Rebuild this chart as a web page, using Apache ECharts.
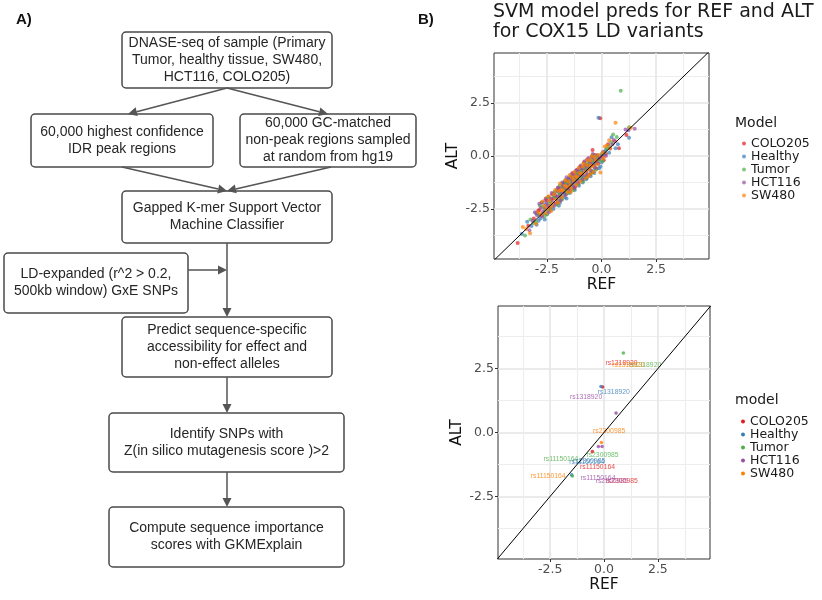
<!DOCTYPE html>
<html><head><meta charset="utf-8">
<script src="https://cdn.jsdelivr.net/npm/echarts@6/dist/echarts.min.js"></script>
<style>html,body{margin:0;padding:0;background:#fff}#c{width:822px;height:600px}</style>
</head><body><div id="c"></div>
<script>
// ---------------- DATA ----------------
const models = ['COLO205', 'Healthy', 'Tumor', 'HCT116', 'SW480'];
const tickValues = [-2.5, 0, 2.5];
const minorTickValues = [-3.75, -1.25, 1.25, 3.75];
const chartTitle = 'SVM model preds for REF and ALT\nfor COX15 LD variants';
const xName = 'REF';
const yName = 'ALT';
const legendTitleTop = 'Model';
const legendTitleBottom = 'model';

// top panel: [REF, ALT] per model
const predsCOLO205 = [[-3.84,-4.1],[-3.35,-3.29],[-3.1,-2.95],[-2.85,-2.55],[-2.74,-2.19],[-2.6,-2.45],[-2.5,-2.1],[-2.42,-2.35],[-2.3,-2.05],[-2.2,-2.0],[-2.15,-1.75],[-2.05,-1.95],[-1.95,-1.6],[-1.9,-1.85],[-1.8,-1.45],[-1.75,-1.7],[-1.68,-1.3],[-1.6,-1.55],[-1.55,-1.2],[-1.48,-1.45],[-1.4,-1.1],[-1.35,-1.35],[-1.3,-0.95],[-1.22,-1.2],[-1.15,-0.85],[-1.1,-1.1],[-1.02,-0.75],[-0.95,-0.95],[-0.9,-0.6],[-0.85,-0.88],[-0.78,-0.5],[-0.7,-0.72],[-0.62,-0.4],[-0.55,-0.6],[-0.48,-0.3],[-0.41,0.28],[-0.35,-0.45],[-0.25,-0.2],[-0.15,-0.35],[-0.06,1.78],[0.05,-0.05],[0.2,0.1],[0.8,0.36],[1.14,0.99],[-2.0,-2.2],[-1.2,-1.45],[-0.5,-0.85],
  [-2.9,-2.6],[-2.75,-2.8],[-2.55,-2.0],[-2.35,-2.5],[-2.25,-1.8],[-2.1,-2.25],[-1.98,-1.5],[-1.85,-2.05],[-1.72,-1.25],[-1.62,-1.8],[-1.5,-1.05],[-1.42,-1.6],[-1.32,-0.8],[-1.25,-1.55],[-1.12,-0.65],[-1.05,-1.3],[-0.97,-0.5],[-0.88,-1.15],[-0.8,-0.3],[-0.72,-1.0],[-0.65,-0.15],[-0.58,-0.9],[-0.45,-0.05],[-0.38,-0.75],[-0.3,0.05],[-0.22,-0.6],[-0.1,-0.15],[0.1,-0.2],[0.3,0.55],[0.62,0.7]];
const predsHealthy = [[-3.65,-3.68],[-2.97,-3.24],[-2.8,-2.95],[-2.65,-2.7],[-2.55,-2.3],[-2.45,-2.6],[-2.35,-2.15],[-2.25,-2.4],[-2.1,-1.9],[-2.0,-2.1],[-1.92,-1.75],[-1.85,-1.95],[-1.72,-1.55],[-1.65,-1.75],[-1.58,-1.35],[-1.5,-1.6],[-1.42,-1.25],[-1.33,-1.45],[-1.25,-1.05],[-1.18,-1.3],[-1.08,-0.9],[-1.0,-1.15],[-0.92,-0.75],[-0.82,-1.0],[-0.75,-0.6],[-0.65,-0.85],[-0.58,-0.45],[-0.45,-0.7],[-0.38,-0.25],[-0.3,-0.55],[-0.2,-0.1],[-0.11,-0.58],[-0.14,1.80],[0.0,-0.3],[0.1,0.05],[0.46,0.89],[0.64,0.36],[1.26,0.86],[-2.6,-3.0],[-1.6,-2.0],[-0.7,-1.1],[-3.2,-3.3],[-1.95,-2.35],
  [-3.4,-3.1],[-3.0,-2.7],[-2.88,-3.05],[-2.7,-2.2],[-2.5,-2.75],[-2.4,-1.95],[-2.2,-2.5],[-2.05,-1.6],[-1.9,-2.2],[-1.78,-1.3],[-1.68,-1.95],[-1.55,-1.1],[-1.45,-1.75],[-1.35,-0.95],[-1.22,-1.6],[-1.12,-0.7],[-1.03,-1.4],[-0.95,-0.55],[-0.86,-1.25],[-0.78,-0.35],[-0.68,-1.05],[-0.6,-0.2],[-0.5,-0.95],[-0.42,0.0],[-0.33,-0.8],[-0.25,-0.35],[-0.05,-0.5],[0.2,0.3],[0.75,0.55],[0.35,0.15]];
const predsTumor = [[-3.12,-3.16],[-3.5,-3.75],[-2.9,-2.75],[-2.7,-2.4],[-2.58,-2.55],[-2.4,-2.2],[-2.28,-2.3],[-2.18,-1.9],[-2.08,-2.0],[-1.98,-1.7],[-1.88,-1.8],[-1.78,-1.5],[-1.7,-1.6],[-1.62,-1.25],[-1.52,-1.4],[-1.45,-1.15],[-1.38,-1.3],[-1.28,-0.98],[-1.2,-1.12],[-1.12,-0.8],[-1.05,-0.98],[-0.96,-0.7],[-0.88,-0.8],[-0.8,-0.55],[-0.72,-0.65],[-0.6,-0.35],[-0.52,-0.5],[-0.42,-0.15],[-0.32,-0.3],[-0.22,0.0],[-0.12,-0.2],[0.0,0.1],[0.15,0.2],[0.53,1.02],[0.88,3.08],[1.26,1.36],[0.35,0.45],[-1.47,-1.69],[-2.5,-2.75],[-0.9,-1.05],
  [-3.25,-3.0],[-3.0,-3.1],[-2.82,-2.35],[-2.62,-2.85],[-2.45,-1.95],[-2.33,-2.55],[-2.15,-1.7],[-2.02,-2.3],[-1.92,-1.4],[-1.8,-2.05],[-1.66,-1.15],[-1.56,-1.75],[-1.42,-0.95],[-1.3,-1.6],[-1.18,-0.75],[-1.08,-1.35],[-0.98,-0.55],[-0.84,-1.2],[-0.76,-0.35],[-0.66,-0.95],[-0.56,-0.2],[-0.47,-0.8],[-0.38,0.05],[-0.27,-0.65],[-0.17,-0.05],[0.05,-0.25],[0.25,0.35],[0.45,0.65],[0.7,0.9],[-0.62,-0.6]];
const predsHCT116 = [[-3.05,-2.66],[-2.95,-2.8],[-2.78,-2.45],[-2.68,-2.62],[-2.52,-2.25],[-2.45,-2.45],[-2.32,-2.0],[-2.22,-2.18],[-2.12,-1.85],[-2.02,-1.9],[-1.93,-1.55],[-1.84,-1.7],[-1.76,-1.4],[-1.66,-1.5],[-1.57,-1.15],[-1.49,-1.35],[-1.41,-1.05],[-1.32,-1.22],[-1.24,-0.9],[-1.16,-1.02],[-1.07,-0.7],[-0.99,-0.88],[-0.9,-0.55],[-0.81,-0.7],[-0.73,-0.45],[-0.64,-0.55],[-0.54,-0.25],[-0.46,-0.4],[-0.36,-0.1],[-0.27,-0.25],[-0.18,0.05],[-0.08,-0.1],[0.08,0.2],[0.56,0.76],[1.52,1.29],[1.23,1.21],[0.4,0.35],[-3.3,-3.5],[-1.0,-0.55],[-2.0,-1.5],
  [-3.15,-3.05],[-2.85,-2.25],[-2.72,-2.85],[-2.58,-2.1],[-2.4,-2.65],[-2.28,-1.75],[-2.15,-2.35],[-2.0,-1.65],[-1.88,-2.1],[-1.8,-1.25],[-1.7,-1.85],[-1.6,-1.0],[-1.47,-1.65],[-1.37,-0.85],[-1.28,-1.5],[-1.18,-0.7],[-1.09,-1.25],[-0.95,-0.45],[-0.86,-1.1],[-0.77,-0.25],[-0.69,-0.9],[-0.59,-0.1],[-0.5,-0.7],[-0.4,0.1],[-0.31,-0.55],[-0.2,-0.3],[0.0,0.0],[0.2,0.0],[0.5,0.55],[1.1,1.25]];
const predsSW480 = [[-3.27,-3.64],[-3.45,-3.45],[-2.88,-2.65],[-2.76,-2.75],[-2.62,-2.35],[-2.48,-2.5],[-2.38,-2.1],[-2.26,-2.25],[-2.16,-1.8],[-2.06,-2.05],[-1.96,-1.65],[-1.86,-1.62],[-1.77,-1.6],[-1.69,-1.4],[-1.6,-1.45],[-1.51,-1.2],[-1.43,-1.38],[-1.35,-1.0],[-1.26,-1.15],[-1.18,-0.95],[-1.1,-1.0],[-1.01,-0.8],[-0.93,-0.85],[-0.85,-0.5],[-0.76,-0.75],[-0.67,-0.42],[-0.57,-0.62],[-0.49,-0.2],[-0.4,-0.5],[-0.3,-0.05],[-0.2,-0.4],[-0.05,-0.78],[0.05,0.15],[0.35,0.74],[0.64,1.57],[1.34,1.33],[0.25,0.5],[-2.3,-2.6],[-1.4,-1.7],[-0.6,-0.95],
  [-3.6,-3.35],[-3.0,-3.2],[-2.7,-2.15],[-2.55,-2.7],[-2.42,-1.9],[-2.3,-2.4],[-2.12,-1.6],[-1.99,-2.2],[-1.9,-1.3],[-1.81,-1.95],[-1.65,-1.15],[-1.55,-1.7],[-1.46,-0.9],[-1.38,-1.55],[-1.22,-0.75],[-1.14,-1.35],[-1.04,-0.55],[-0.96,-1.2],[-0.83,-0.35],[-0.73,-1.05],[-0.63,-0.2],[-0.53,-0.85],[-0.44,0.0],[-0.36,-0.75],[-0.26,-0.2],[-0.15,0.05],[0.1,-0.1],[0.4,0.35],[0.15,0.45],[-0.5,-0.45]];

// bottom panel: significant SNP points [REF, ALT]
const sigCOLO205 = [[-0.06,1.78],[-0.54,-0.75]];
const sigHealthy = [[-0.14,1.80],[-1.5,-1.66]];
const sigTumor = [[0.9,3.11],[-1.47,-1.70]];
const sigHCT116 = [[0.56,0.76],[-0.26,-0.55],[-0.09,-0.55]];
const sigSW480 = [[-0.12,-0.39]];

// bottom panel: SNP text labels [REF, ALT, id]
const labCOLO205 = [[0.81,2.72,'rs1318920'],[-0.30,-1.36,'rs11150164'],[0.82,-1.92,'rs2300985']];
const labHealthy = [[0.45,1.57,'rs1318920'],[-0.69,-1.11,'rs2300985'],[-0.8,-1.15,'rs11150164']];
const labTumor = [[1.91,2.63,'rs1318920'],[-0.07,-0.87,'rs2300985'],[-2.0,-1.03,'rs11150164']];
const labHCT116 = [[-0.83,1.37,'rs1318920'],[-0.28,-1.79,'rs11150164'],[0.36,-1.92,'rs2300985']];
const labSW480 = [[1.13,2.62,'rs1318920'],[0.24,0.07,'rs2300985'],[-2.59,-1.72,'rs11150164']];

// flowchart texts
const panelLabels = ['A)', 'B)'];
const flowTexts = [
  'DNASE-seq of sample (Primary\nTumor, healthy tissue, SW480,\nHCT116, COLO205)',
  '60,000 highest confidence\nIDR peak regions',
  '60,000 GC-matched\nnon-peak regions sampled\nat random from hg19',
  'Gapped K-mer Support Vector\nMachine Classifier',
  'LD-expanded (r^2 > 0.2,\n500kb window) GxE SNPs',
  'Predict sequence-specific\naccessibility for effect and\nnon-effect alleles',
  'Identify SNPs with\nZ(in silico mutagenesis score )>2',
  'Compute sequence importance\nscores with GKMExplain'
];

// ---------------- LAYOUT / STYLE ----------------
const palette = ['#E41A1C', '#377EB8', '#4DAF4A', '#984EA3', '#FF7F00'];
const preds = [predsCOLO205, predsHealthy, predsTumor, predsHCT116, predsSW480];
const sigs = [sigCOLO205, sigHealthy, sigTumor, sigHCT116, sigSW480];
const labs = [labCOLO205, labHealthy, labTumor, labHCT116, labSW480];

const boxGeom = [
  [122, 32, 210, 56], [31, 114, 182, 53], [240, 114, 176, 53], [122, 191, 210, 52],
  [4, 253, 184, 60], [122, 317, 210, 60], [109, 413, 235, 59], [109, 507, 235, 60]
];
const arrowGeom = [
  [227, 88, 128, 114], [227, 88, 328, 114], [122, 167, 227, 191], [331, 167, 227, 191],
  [227, 243, 227, 317], [188, 270, 227, 270], [227, 377, 227, 413], [227, 472, 227, 507]
];

const FONT = 'DejaVu Sans';
const graphicEls = [];
boxGeom.forEach((b, i) => {
  graphicEls.push({ type: 'rect', shape: { x: b[0], y: b[1], width: b[2], height: b[3], r: 4 },
    style: { fill: '#fff', stroke: '#4a4a4a', lineWidth: 1.5 } });
  graphicEls.push({ type: 'text', x: b[0] + b[2] / 2, y: b[1] + b[3] / 2,
    style: { text: flowTexts[i], align: 'center', verticalAlign: 'middle',
      font: '14px "Liberation Sans", Arial, sans-serif', lineHeight: 17, fill: '#262626' } });
});
arrowGeom.forEach(a => {
  const [x1, y1, x2, y2] = a;
  const L = 9, W = 4.5;
  const dx = x2 - x1, dy = y2 - y1, len = Math.hypot(dx, dy);
  const ux = dx / len, uy = dy / len;
  const bx = x2 - ux * L, by = y2 - uy * L;
  graphicEls.push({ type: 'line', shape: { x1, y1, x2: bx, y2: by }, style: { stroke: '#555', lineWidth: 1.5 } });
  graphicEls.push({ type: 'polygon', shape: { points: [[x2, y2], [bx - uy * W, by + ux * W], [bx + uy * W, by - ux * W]] },
    style: { fill: '#555' } });
});
graphicEls.push({ type: 'text', x: 16, y: 12, style: { text: panelLabels[0], font: 'bold 15px "Liberation Sans", Arial', fill: '#111' } });
graphicEls.push({ type: 'text', x: 418, y: 12, style: { text: panelLabels[1], font: 'bold 15px "Liberation Sans", Arial', fill: '#111' } });

const grids = [
  { left: 494, top: 53, width: 215, height: 206, range: [-4.92, 4.92], yrange: [-4.86, 4.86] },
  { left: 498, top: 306, width: 212, height: 253, range: [-4.92, 4.92], yrange: [-4.95, 4.95] }
];

function majorAxis(gi, isX, rng) {
  return {
    gridIndex: gi, type: 'value', min: rng[0], max: rng[1], position: isX ? 'bottom' : 'left',
    axisLine: { show: false, onZero: false },
    axisTick: { show: true, length: 3, customValues: tickValues, lineStyle: { color: '#333', width: 1 } },
    axisLabel: { customValues: tickValues, formatter: v => v.toFixed(1), color: '#4d4d4d',
      fontSize: 12.5, fontFamily: FONT, margin: 4 },
    splitLine: { show: true, lineStyle: { color: '#E5E5E5', width: 1.6 } },
    name: isX ? xName : yName, nameLocation: 'middle', nameGap: isX ? 18 : 33,
    nameTextStyle: { fontFamily: FONT, fontSize: 15.5, color: '#111' }
  };
}
function minorAxis(gi, isX, rng) {
  return {
    gridIndex: gi, type: 'value', min: rng[0], max: rng[1], position: isX ? 'bottom' : 'left',
    axisLine: { show: false, onZero: false },
    axisTick: { show: false, customValues: minorTickValues },
    axisLabel: { show: false, customValues: minorTickValues },
    splitLine: { show: true, lineStyle: { color: '#EDEDED', width: 1.2 } }
  };
}

const xAxes = [majorAxis(0, true, grids[0].range), minorAxis(0, true, grids[0].range),
  majorAxis(1, true, grids[1].range), minorAxis(1, true, grids[1].range)];
const yAxes = [majorAxis(0, false, grids[0].yrange), minorAxis(0, false, grids[0].yrange),
  majorAxis(1, false, grids[1].yrange), minorAxis(1, false, grids[1].yrange)];

const series = [];
models.forEach((m, i) => {
  series.push({ type: 'scatter', name: m, xAxisIndex: 0, yAxisIndex: 0, data: preds[i],
    symbolSize: 4, itemStyle: { color: palette[i], opacity: 0.7 }, silent: true });
});
models.forEach((m, i) => {
  series.push({ type: 'scatter', name: m, xAxisIndex: 2, yAxisIndex: 2, data: sigs[i],
    symbolSize: 3.6, itemStyle: { color: palette[i], opacity: 0.8 }, silent: true });
});
models.forEach((m, i) => {
  series.push({ type: 'scatter', name: m + ' label', xAxisIndex: 2, yAxisIndex: 2,
    data: labs[i].map(d => ({ name: d[2], value: [d[0], d[1]] })),
    symbolSize: 0, silent: true, z: 4,
    label: { show: true, position: 'inside', formatter: '{b}', color: palette[i],
      fontSize: 6.8, fontFamily: '"Liberation Sans", Arial' } });
});
[0, 2].forEach(ai => {
  series.push({ type: 'line', xAxisIndex: ai, yAxisIndex: ai, data: [[-6, -6], [6, 6]],
    symbol: 'none', clip: true, silent: true, z: 5, lineStyle: { color: '#000', width: 1 } });
});

function legendData(op) {
  return models.map((m, i) => ({ name: m, itemStyle: { color: palette[i], opacity: op } }));
}
const legendText = { fontFamily: FONT, fontSize: 12.5, color: '#1a1a1a' };

const option = {
  animation: false,
  backgroundColor: '#fff',
  title: [
    { text: chartTitle, left: 493, top: 2, padding: 0,
      textStyle: { fontFamily: FONT, fontSize: 19, fontWeight: 'normal', color: '#1a1a1a', lineHeight: 20 } },
    { text: legendTitleTop, left: 735, top: 115, padding: 0,
      textStyle: { fontFamily: FONT, fontSize: 14, fontWeight: 'normal', color: '#1a1a1a', lineHeight: 16 } },
    { text: legendTitleBottom, left: 735, top: 392, padding: 0,
      textStyle: { fontFamily: FONT, fontSize: 14, fontWeight: 'normal', color: '#1a1a1a', lineHeight: 16 } }
  ],
  legend: [
    { orient: 'vertical', left: 742, top: 137, padding: 0, itemGap: 0, itemWidth: 4, itemHeight: 4,
      icon: 'circle', selectedMode: false, data: legendData(0.7),
      textStyle: Object.assign({ lineHeight: 12.25 }, legendText) },
    { orient: 'vertical', left: 741, top: 415, padding: 0, itemGap: 0, itemWidth: 4, itemHeight: 4,
      icon: 'circle', selectedMode: false, data: legendData(1),
      textStyle: Object.assign({ lineHeight: 11.75 }, legendText) }
  ],
  grid: grids.map(g => ({ left: g.left, top: g.top, width: g.width, height: g.height,
    show: true, borderColor: '#333', borderWidth: 1, backgroundColor: 'transparent', containLabel: false })),
  xAxis: xAxes,
  yAxis: yAxes,
  series: series,
  graphic: { elements: graphicEls }
};

const chart = echarts.init(document.getElementById('c'), null, { renderer: 'canvas' });
chart.setOption(option);
</script>
</body></html>
